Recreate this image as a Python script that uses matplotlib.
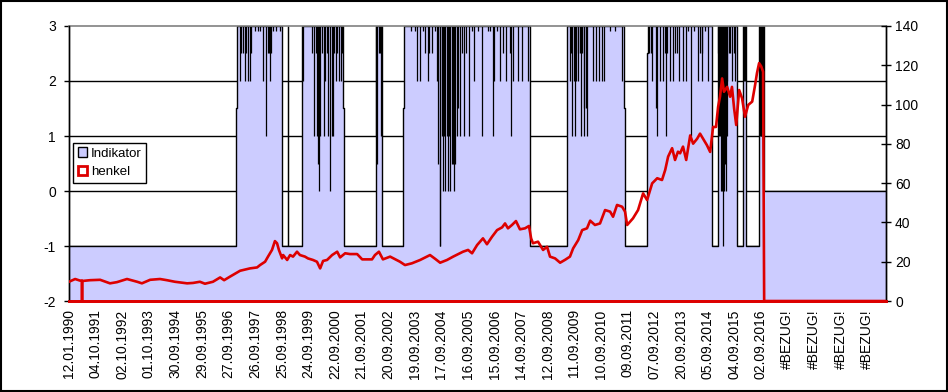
import matplotlib
matplotlib.use("Agg")
import matplotlib.pyplot as plt
from matplotlib.patches import Patch, Rectangle

plt.rcParams['font.family'] = ['Liberation Sans', 'DejaVu Sans']
plt.rcParams['axes.unicode_minus'] = False

# category labels (one every N rows of the sheet)
labels = ["12.01.1990", "04.10.1991", "02.10.1992", "01.10.1993", "30.09.1994",
          "29.09.1995", "27.09.1996", "26.09.1997", "25.09.1998", "24.09.1999",
          "22.09.2000", "21.09.2001", "20.09.2002", "19.09.2003", "17.09.2004",
          "16.09.2005", "15.09.2006", "14.09.2007", "12.09.2008", "11.09.2009",
          "10.09.2010", "09.09.2011", "07.09.2012", "20.09.2013", "05.09.2014",
          "04.09.2015", "02.09.2016", "#BEZUG!", "#BEZUG!", "#BEZUG!", "#BEZUG!"]
x_end = 30.71

# Indikator: base level (step, value holds until next break)
ind_breaks = [0, 6.27, 6.30, 8.02, 8.75, 10.30, 10.34, 11.53, 11.76, 12.57, 12.61,
              17.33, 18.73, 20.86, 20.90, 21.74, 21.77, 24.16, 24.41, 25.10, 25.34,
              25.43, 25.95, 26.11, x_end]
ind_level = [-1, 1.5, 3, -1, 3, 1.5, -1, 3, -1, 1.5, 3, -1, 3, 1.5, -1, 2.5, 3, -1,
             3, -1, 3, -1, 3, 0]

# Indikator: single-day values breaking away from the level
spike_x = [6.43, 6.47, 6.54, 6.60, 6.65, 6.71, 6.80, 6.84, 6.99, 7.11, 7.18, 7.29,
           7.42, 7.48, 7.52, 7.56, 7.59, 7.67, 7.78, 7.93,
           8.23, 8.25,
           8.80, 9.14, 9.21, 9.29, 9.32, 9.37, 9.41, 9.45, 9.51, 9.57, 9.62, 9.68,
           9.74, 9.81, 9.87, 9.92, 9.96, 10.02, 10.08, 10.15, 10.23, 10.28,
           11.54, 11.58, 11.65, 11.69, 11.73,
           12.85, 13.01, 13.07, 13.20, 13.31, 13.38, 13.48, 13.53, 13.64, 13.76,
           13.85, 13.88, 13.93, 13.94, 14.02, 14.05, 14.10, 14.14, 14.19, 14.24,
           14.29, 14.32, 14.39, 14.44, 14.48, 14.51, 14.58, 14.62, 14.70, 14.77,
           14.85, 14.92, 15.04, 15.15, 15.24, 15.38, 15.54, 15.75, 15.83, 15.95,
           15.99, 16.09, 16.20, 16.33, 16.43, 16.58, 16.61, 16.70, 16.89, 17.02,
           17.27,
           18.83, 18.87, 18.92, 18.97, 19.02, 19.06, 19.12, 19.15, 19.21, 19.25,
           19.29, 19.34, 19.37, 19.42, 19.46, 19.69, 19.81, 19.94, 20.03, 20.11,
           20.34, 20.53, 20.78,
           21.82, 21.86, 21.91, 22.07, 22.10, 22.22, 22.34, 22.41, 22.43, 22.47,
           22.59, 22.72, 22.78, 22.85, 22.94, 23.07, 23.20, 23.27, 23.38, 23.50,
           23.66, 23.72, 23.79, 23.81, 23.91, 24.03,
           24.41, 24.44, 24.47, 24.50, 24.53, 24.57, 24.60, 24.62, 24.66, 24.70,
           24.73, 24.75, 24.79, 24.85, 24.91, 24.98, 25.04,
           25.36, 25.40,
           25.97, 26.00, 26.03, 26.06, 26.09]
spike_v = [2.0, 2.5, 2.5, 2.0, 2.5, 2.0, 2.0, 2.5, 2.9, 2.9, 2.9, 2.0,
           1.0, 2.5, 2.5, 2.0, 2.5, 2.9, 2.9, 2.9,
           -1.0, -1.0,
           2.0, 2.5, 1.0, 2.5, 1.0, 0.5, 0.0, 1.0, 2.5, 1.0, 2.0, 2.5,
           1.0, 0.0, 1.0, 1.0, 2.5, 2.0, 2.5, 2.0, 2.0, 2.5,
           1.0, 0.5, 2.5, 2.5, 1.0,
           2.9, 2.9, 2.0, 2.0, 2.9, 2.5, 2.0, 2.5, 2.5, 2.9,
           2.0, 0.5, -1.0, -1.0, 1.0, 0.0, 1.0, 0.0, 1.0, 0.0,
           1.0, 0.0, 0.5, 0.5, 0.0, 0.5, 1.0, 1.5, 1.0, 2.5,
           1.0, 2.5, 1.0, 2.9, 2.0, 2.9, 1.0, 2.9, 2.9, 1.0,
           2.0, 2.9, 2.0, 2.5, 2.0, 2.5, 1.0, 2.0, 2.0, 2.0,
           2.0,
           2.0, 2.5, 1.0, 2.0, 1.0, 2.0, 2.5, 2.0, 2.5, 1.0,
           2.5, 1.5, 1.0, 1.5, 1.0, 2.0, 2.0, 2.0, 2.0, 2.0,
           2.9, 2.9, 2.0,
           2.5, 2.5, 2.0, 1.5, 1.0, 2.0, 2.0, 2.5, 1.0, 2.5,
           2.0, 2.0, 2.5, 2.5, 2.0, 2.0, 2.0, 2.9, 1.0, 2.9,
           2.0, 2.5, 2.0, 2.5, 2.9, 2.0,
           2.5, 1.0, 1.0, 0.0, 0.0, 1.0, -1.0, 0.0, 0.5, 0.0,
           1.0, 2.0, 2.5, 2.5, 2.0, 2.5, 2.0,
           2.0, 2.0,
           1.0, 1.0, 1.0, 2.0, 1.0]

# henkel share price (right axis)
henkel_x = [0.00, 0.23, 0.41, 0.48, 0.49, 0.50, 0.79, 1.17, 1.54, 1.80, 2.18, 2.56,
            2.74, 3.05, 3.42, 3.68, 3.98, 4.44, 4.66, 4.92, 5.11, 5.41, 5.68, 5.83,
            6.05, 6.43, 6.80, 7.07, 7.18, 7.37, 7.48, 7.63, 7.74, 7.82, 7.89, 8.01,
            8.05, 8.20, 8.31, 8.42, 8.57, 8.68, 8.87, 8.98, 9.17, 9.32, 9.44, 9.55,
            9.70, 9.89, 10.08, 10.19, 10.38, 10.56, 10.83, 11.02, 11.39, 11.50,
            11.65, 11.80, 12.07, 12.44, 12.63, 12.89, 13.20, 13.57, 13.76, 13.95,
            14.21, 14.44, 14.81, 15.00, 15.15, 15.34, 15.56, 15.71, 15.90, 16.09,
            16.28, 16.39, 16.50, 16.65, 16.80, 16.95, 17.14, 17.29, 17.37, 17.44,
            17.63, 17.82, 17.97, 18.08, 18.27, 18.46, 18.65, 18.83, 18.95, 19.14,
            19.29, 19.47, 19.59, 19.77, 19.96, 20.15, 20.34, 20.45, 20.60, 20.79,
            20.90, 20.98, 21.20, 21.39, 21.58, 21.73, 21.92, 22.11, 22.29, 22.41,
            22.52, 22.67, 22.78, 22.89, 22.97, 23.08, 23.20, 23.35, 23.46, 23.61,
            23.72, 23.87, 23.98, 24.10, 24.21, 24.32, 24.40, 24.47, 24.55, 24.62,
            24.74, 24.85, 24.92, 25.00, 25.08, 25.19, 25.30, 25.41, 25.53, 25.68,
            25.79, 25.86, 25.94, 26.02, 26.09, 26.13, x_end]
henkel = [9.8, 11.2, 10.4, 10.4, 0.0, 10.2, 10.6, 10.8, 9.0, 9.6, 11.2, 9.8,
          9.0, 10.8, 11.2, 10.6, 9.8, 9.0, 9.2, 9.8, 8.8, 9.8, 12.0, 10.6,
          12.4, 15.4, 16.6, 17.1, 18.3, 20.0, 22.6, 26.0, 30.5, 29.4, 26.0, 21.7,
          23.4, 20.9, 23.4, 22.6, 25.1, 23.4, 22.6, 21.7, 20.9, 20.0, 16.6, 20.4,
          20.9, 23.4, 25.1, 22.2, 24.3, 23.9, 23.9, 21.2, 21.2, 23.4,
          25.1, 21.2, 22.6, 20.0, 18.3, 19.2, 20.9, 23.4, 21.5, 19.5,
          20.9, 22.6, 25.1, 26.0, 24.3, 28.5, 31.9, 28.9, 32.7, 36.1,
          37.5, 39.5, 37.0, 38.7, 40.7, 36.5, 37.0, 38.2, 31.9, 29.4,
          30.2, 26.0, 27.6, 22.6, 21.7, 19.5, 21.0, 22.6, 26.8, 31.0,
          36.1, 37.0, 40.9, 38.7, 39.5, 46.3, 45.5, 42.9, 48.9, 48.0,
          45.5, 38.7, 42.1, 46.3, 54.8, 51.4, 59.9, 62.5, 61.6, 66.7,
          73.5, 77.8, 71.8, 76.0, 75.2, 78.6, 71.8, 84.3, 80.1, 82.6,
          85.2, 81.8, 79.3, 75.9, 88.6, 88.6, 98.9, 104.0, 113.3, 106.5,
          109.0, 104.0, 109.0, 98.1, 89.6, 107.4, 103.2, 93.8, 99.8, 101.5,
          110.0, 116.0, 121.1, 119.4, 116.7, 0.0, 0.0]

blue = "#CCCCFF"
red = "#DD0000"

fig = plt.figure(figsize=(9.48, 3.92), dpi=100)
ax = fig.add_axes([0.0728, 0.2321, 0.8618, 0.7016])
ax2 = ax.twinx()

# gridlines behind the area
for g in [2, 1, 0, -1]:
    ax.axhline(g, color="black", lw=1.0, zorder=0.5)

lvl = ind_level + [ind_level[-1]]
ax.fill_between(ind_breaks, lvl, -2, step="post", color=blue, lw=0, zorder=1)
ax.step(ind_breaks, lvl, where="post", color="black", lw=1.0, zorder=2)
ax.vlines(spike_x, spike_v, 3, color="black", lw=0.9, zorder=2)
ax.axhline(3, color="#808080", lw=1.2, zorder=3, clip_on=False)

ax.set_xlim(0, x_end)
ax.set_ylim(-2, 3)
ax.set_yticks([3, 2, 1, 0, -1, -2])
ax.set_xticks(range(len(labels)))
ax.set_xticklabels(labels, rotation=90, fontsize=10)
ax.tick_params(axis="x", length=0, pad=6)
ax.tick_params(axis="y", direction="out", length=3.5, width=1, labelsize=10, pad=6)

ax2.plot(henkel_x, henkel, color=red, lw=1.9, zorder=3)
ax2.set_ylim(0, 140)
ax2.set_yticks(range(0, 141, 20))
ax2.tick_params(axis="y", direction="inout", length=7, width=1, labelsize=10, pad=3)

for a in (ax, ax2):
    a.spines["top"].set_visible(False)
    a.spines["left"].set_linewidth(1)
    a.spines["right"].set_linewidth(1)
    a.spines["bottom"].set_color(red)
    a.spines["bottom"].set_linewidth(2)
    a.spines["bottom"].set_zorder(5)

handles = [Patch(facecolor=blue, edgecolor="black", lw=1),
           Patch(facecolor="white", edgecolor=red, lw=2)]
leg = ax2.legend(handles, ["Indikator", "henkel"], loc="upper left",
                 bbox_to_anchor=(0.005, 0.575), borderaxespad=0, fontsize=9.5,
                 fancybox=False, framealpha=1, edgecolor="black",
                 handlelength=0.7, handleheight=0.7, handletextpad=0.3,
                 borderpad=0.35, labelspacing=0.45)
leg.get_frame().set_linewidth(1)

fig.patches.append(Rectangle((0.001, 0.003), 0.9975, 0.995, transform=fig.transFigure,
                             fill=False, edgecolor="black", lw=1.5))

fig.savefig("out.png", dpi=100)
